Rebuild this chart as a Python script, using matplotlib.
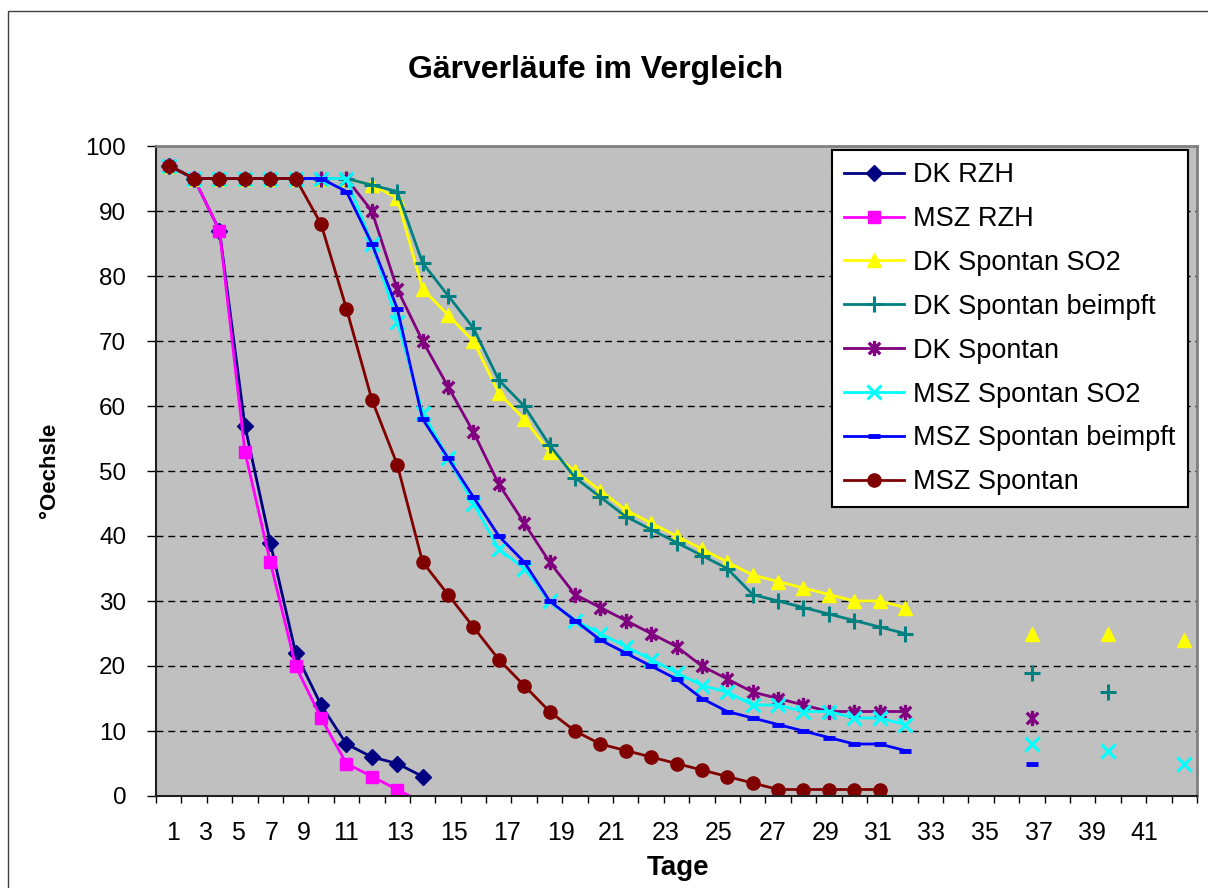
import numpy as np
import matplotlib
matplotlib.use('Agg')
import matplotlib.pyplot as plt
from matplotlib.path import Path
from matplotlib.patches import Rectangle

plt.rcParams['font.family'] = ['Liberation Sans', 'DejaVu Sans']

nan = np.nan
tage = np.arange(1, 42)

# Oechsle-Werte je Tag (leere Zellen = nan)
dk_rzh = [97, 95, 87, 57, 39, 22, 14, 8, 6, 5, 3]
msz_rzh = [97, 95, 87, 53, 36, 20, 12, 5, 3, 1, -1]
dk_spontan_so2 = [97, 95, 95, 95, 95, 95, 95, 95, 94, 92, 78, 74, 70, 62, 58, 53, 50, 47, 44, 42,
                  40, 38, 36, 34, 33, 32, 31, 30, 30, 29, nan, nan, nan, nan, 25, nan, nan, 25, nan, nan, 24]
dk_spontan_beimpft = [97, 95, 95, 95, 95, 95, 95, 95, 94, 93, 82, 77, 72, 64, 60, 54, 49, 46, 43, 41,
                      39, 37, 35, 31, 30, 29, 28, 27, 26, 25, nan, nan, nan, nan, 19, nan, nan, 16]
dk_spontan = [97, 95, 95, 95, 95, 95, 95, 95, 90, 78, 70, 63, 56, 48, 42, 36, 31, 29, 27, 25,
              23, 20, 18, 16, 15, 14, 13, 13, 13, 13, nan, nan, nan, nan, 12]
msz_spontan_so2 = [97, 95, 95, 95, 95, 95, 95, 95, 85, 73, 59, 52, 45, 38, 35, 30, 27, 25, 23, 21,
                   19, 17, 16, 14, 14, 13, 13, 12, 12, 11, nan, nan, nan, nan, 8, nan, nan, 7, nan, nan, 5]
msz_spontan_beimpft = [97, 95, 95, 95, 95, 95, 95, 93, 85, 75, 58, 52, 46, 40, 36, 30, 27, 24, 22, 20,
                       18, 15, 13, 12, 11, 10, 9, 8, 8, 7, nan, nan, nan, nan, 5]
msz_spontan = [97, 95, 95, 95, 95, 95, 88, 75, 61, 51, 36, 31, 26, 21, 17, 13, 10, 8, 7, 6,
               5, 4, 3, 2, 1, 1, 1, 1, 1]

tick_labels = [str(t) for t in range(1, 42, 2)]
# Beschriftungen stehen im Original etwas gestaucht, nicht genau unter den Kategorien
tick_pos = [1.16, 2.47, 3.73, 5.06, 6.33, 8.0, 10.13, 12.23, 14.34, 16.45, 18.45,
            20.57, 22.67, 24.78, 26.88, 28.93, 31.02, 33.15, 35.26, 37.36, 39.44]

star = Path([(0, -1), (0, 1), (-0.75, -0.75), (0.75, 0.75), (-0.75, 0.75), (0.75, -0.75)],
            [Path.MOVETO, Path.LINETO, Path.MOVETO, Path.LINETO, Path.MOVETO, Path.LINETO])

series = [
    ('DK RZH', dk_rzh, '#000080', 'D', 8.5, 1),
    ('MSZ RZH', msz_rzh, '#FF00FF', 's', 9, 1),
    ('DK Spontan SO2', dk_spontan_so2, '#FFFF00', '^', 10.5, 1),
    ('DK Spontan beimpft', dk_spontan_beimpft, '#008080', '+', 12, 2.2),
    ('DK Spontan', dk_spontan, '#800080', star, 11, 2.4),
    ('MSZ Spontan SO2', msz_spontan_so2, '#00FFFF', 'x', 10.5, 2.2),
    ('MSZ Spontan beimpft', msz_spontan_beimpft, '#0000FF', '_', 8, 3.5),
    ('MSZ Spontan', msz_spontan, '#800000', 'o', 9.5, 1),
]

fig = plt.figure(figsize=(12.08, 8.88), dpi=100)
fig.patches.append(Rectangle((8 / 1208, -0.1), 1.2, 1.1 - 11 / 888, transform=fig.transFigure,
                             fill=False, edgecolor='#404040', linewidth=1))
ax = fig.add_axes([156 / 1208, 1 - 796 / 888, 1041 / 1208, 650 / 888])
ax.set_facecolor('#C0C0C0')

for name, vals, col, mk, ms, mew in series:
    ax.plot(tage[:len(vals)], vals, color=col, lw=2, marker=mk, markersize=ms,
            markerfacecolor=col, markeredgecolor=col, markeredgewidth=mew, label=name)

ax.set_xlim(0.5, 41.5)
ax.set_ylim(0, 100)
ax.set_yticks(range(0, 101, 10))
ax.yaxis.grid(True, color='black', linestyle=(0, (5, 3.5)), lw=1)
ax.set_axisbelow(True)
ax.tick_params(axis='y', direction='out', length=6.5, width=1, labelsize=17.5, pad=15)

ax.set_xticks(tick_pos)
ax.set_xticklabels(tick_labels)
ax.set_xticks(np.arange(0.5, 42, 1), minor=True)
ax.tick_params(axis='x', which='major', length=0, labelsize=18, pad=18)
ax.tick_params(axis='x', which='minor', direction='out', length=5, width=1)

for s in ['top', 'right']:
    ax.spines[s].set_color('#808080')
    ax.spines[s].set_linewidth(2)
for s in ['left', 'bottom']:
    ax.spines[s].set_color('#202020')
    ax.spines[s].set_linewidth(1.5)

fig.text(596 / 1208, 1 - 70 / 888, 'Gärverläufe im Vergleich', ha='center', va='center',
         fontsize=23, fontweight='bold')
fig.text(678 / 1208, 1 - 868 / 888, 'Tage', ha='center', va='center', fontsize=20, fontweight='bold')
fig.text(50 / 1208, 1 - 470 / 888, '°Oechsle', ha='center', va='center', rotation=90,
         fontsize=16, fontweight='bold')

leg = ax.legend(loc='upper left', bbox_to_anchor=(832 / 1208, 1 - 150 / 888),
                bbox_transform=fig.transFigure, fontsize=19.5, frameon=True, fancybox=False,
                handlelength=2.2, handletextpad=0.35, labelspacing=0.66, borderpad=0.45,
                borderaxespad=0)
leg.get_frame().set_edgecolor('black')
leg.get_frame().set_linewidth(1.5)
leg.get_frame().set_alpha(1)

fig.savefig('out.png', dpi=100)
